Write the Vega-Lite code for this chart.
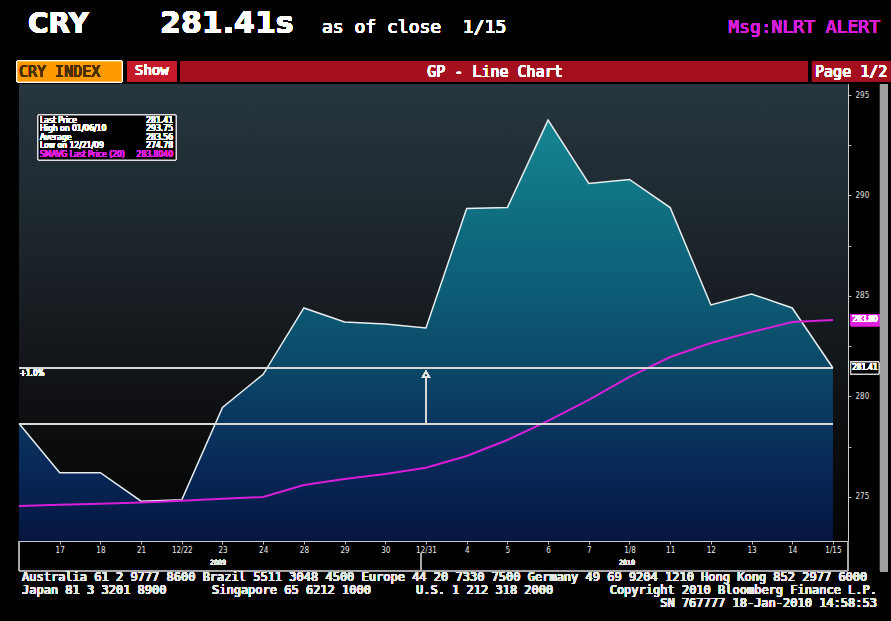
{
  "$schema": "https://vega.github.io/schema/vega-lite/v6.json",
  "width": 829,
  "height": 457,
  "autosize": "none",
  "padding": {"left": 19, "top": 84, "right": 43, "bottom": 80},
  "background": "#000000",
  "config": {
    "view": {"stroke": "#8a8a8a", "strokeWidth": 1},
    "font": "DejaVu Sans"
  },
  "resolve": {"axis": {"x": "independent", "y": "independent"}},
  "data": {
    "values": [
      {"i": 0, "price": 278.65, "sma": 274.54},
      {"i": 1, "price": 276.2, "sma": 274.6},
      {"i": 2, "price": 276.2, "sma": 274.66},
      {"i": 3, "price": 274.78, "sma": 274.72},
      {"i": 4, "price": 274.85, "sma": 274.8},
      {"i": 5, "price": 279.45, "sma": 274.9},
      {"i": 6, "price": 281.1, "sma": 274.99},
      {"i": 7, "price": 284.4, "sma": 275.59},
      {"i": 8, "price": 283.7, "sma": 275.89},
      {"i": 9, "price": 283.6, "sma": 276.14},
      {"i": 10, "price": 283.4, "sma": 276.45},
      {"i": 11, "price": 289.35, "sma": 277.03},
      {"i": 12, "price": 289.4, "sma": 277.83},
      {"i": 13, "price": 293.75, "sma": 278.78},
      {"i": 14, "price": 290.6, "sma": 279.82},
      {"i": 15, "price": 290.8, "sma": 280.97},
      {"i": 16, "price": 289.4, "sma": 281.96},
      {"i": 17, "price": 284.55, "sma": 282.66},
      {"i": 18, "price": 285.1, "sma": 283.2},
      {"i": 19, "price": 284.4, "sma": 283.7},
      {"i": 20, "price": 281.41, "sma": 283.804}
    ]
  },
  "layer": [
    {
      "mark": {"type": "rect", "fill": {"gradient": "linear", "x1": 0, "y1": 0, "x2": 0, "y2": 1, "stops": [
        {"offset": 0, "color": "#27363f"},
        {"offset": 0.25, "color": "#1f2a31"},
        {"offset": 0.5, "color": "#171c21"},
        {"offset": 0.7, "color": "#0e1013"},
        {"offset": 1, "color": "#040404"}
      ]}},
      "encoding": {
        "x": {"datum": 0, "type": "quantitative", "axis": null},
        "x2": {"datum": 20.37},
        "y": {"datum": 295.55, "type": "quantitative", "axis": null},
        "y2": {"datum": 272.8}
      }
    },
    {
      "mark": {"type": "area", "fill": {"gradient": "linear", "x1": 0, "y1": 0, "x2": 0, "y2": 1, "stops": [
        {"offset": 0, "color": "#178592"},
        {"offset": 0.23, "color": "#0f6e80"},
        {"offset": 0.43, "color": "#0c5a74"},
        {"offset": 0.57, "color": "#0b4a68"},
        {"offset": 0.71, "color": "#0a3760"},
        {"offset": 0.85, "color": "#082555"},
        {"offset": 1, "color": "#051640"}
      ]}},
      "encoding": {
        "x": {"field": "i", "type": "quantitative",
          "scale": {"domain": [0, 20.37], "nice": false, "zero": false},
          "axis": {"values": [1,2,3,4,5,6,7,8,9,10,11,12,13,14,15,16,17,18,19,20],
            "labelExpr": "['','17','18','21','12/22','23','24','28','29','30','12/31','4','5','6','7','1/8','11','12','13','14','1/15'][datum.value]",
            "title": null, "grid": false, "labelColor": "#ececec", "labelFontSize": 8, "labelFont": "DejaVu Sans Condensed",
            "tickSize": 3, "tickColor": "#bbbbbb", "domainColor": "#cccccc", "labelPadding": 2}},
        "y": {"field": "price", "type": "quantitative",
          "scale": {"domain": [272.8, 295.55], "nice": false, "zero": false},
          "axis": {"orient": "right", "values": [275, 277.5, 280, 282.5, 285, 287.5, 290, 292.5, 295],
            "labelExpr": "datum.value % 5 == 0 ? datum.label : ''",
            "title": null, "grid": false, "labelColor": "#e0e0e0", "labelFontSize": 8, "labelFont": "DejaVu Sans Condensed",
            "tickSize": 3, "tickColor": "#bbbbbb", "domainColor": "#d0d0d0", "labelPadding": 4}},
        "y2": {"datum": 272.8}
      }
    },
    {
      "mark": {"type": "line", "stroke": "#e8eef0", "strokeWidth": 1.5},
      "encoding": {
        "x": {"field": "i", "type": "quantitative", "axis": null},
        "y": {"field": "price", "type": "quantitative", "axis": null}
      }
    },
    {
      "mark": {"type": "line", "stroke": "#d81ed8", "strokeWidth": 2},
      "encoding": {
        "x": {"field": "i", "type": "quantitative", "axis": null},
        "y": {"field": "sma", "type": "quantitative", "axis": null}
      }
    },
    {
      "mark": {"type": "rule", "stroke": "#d8d8d8", "strokeWidth": 1.5},
      "encoding": {
        "x": {"datum": 0, "type": "quantitative", "axis": null},
        "x2": {"datum": 20},
        "y": {"datum": 281.41, "type": "quantitative", "axis": null}
      }
    },
    {
      "mark": {"type": "rule", "stroke": "#d8d8d8", "strokeWidth": 1.5},
      "encoding": {
        "x": {"datum": 0, "type": "quantitative", "axis": null},
        "x2": {"datum": 20},
        "y": {"datum": 278.62, "type": "quantitative", "axis": null}
      }
    },
    {
      "mark": {"type": "rule", "stroke": "#d8d8d8", "strokeWidth": 1.5},
      "encoding": {
        "x": {"datum": 10, "type": "quantitative", "axis": null},
        "y": {"datum": 278.62, "type": "quantitative", "axis": null},
        "y2": {"datum": 281.0}
      }
    },
    {
      "mark": {"type": "point", "shape": "triangle-up", "filled": false, "stroke": "#e0e0e0", "strokeWidth": 1.2, "size": 45, "opacity": 1},
      "encoding": {
        "x": {"datum": 10, "type": "quantitative", "axis": null},
        "y": {"datum": 281.1, "type": "quantitative", "axis": null}
      }
    },
    {
      "mark": {"type": "text", "text": "+1.0%", "fill": "#ffffff", "fontSize": 8, "font": "DejaVu Sans Condensed", "align": "left", "baseline": "top", "dx": 1, "dy": 2},
      "encoding": {
        "x": {"datum": 0, "type": "quantitative", "axis": null},
        "y": {"datum": 281.41, "type": "quantitative", "axis": null}
      }
    },
    {
      "mark": {"type": "rect", "fill": "#000000", "stroke": "#e0e0e0", "strokeWidth": 1},
      "encoding": {
        "x": {"datum": 0.467, "type": "quantitative", "axis": null},
        "x2": {"datum": 3.858},
        "y": {"datum": 294.007, "type": "quantitative", "axis": null},
        "y2": {"datum": 291.767}
      }
    },
    {
      "mark": {"type": "text", "text": ["Last Price", "High on 01/06/10", "Average", "Low on 12/21/09"], "lineHeight": 8.5, "fill": "#ffffff", "fontSize": 8.5, "font": "DejaVu Sans Condensed", "align": "left", "baseline": "top"},
      "encoding": {
        "x": {"datum": 0.516, "type": "quantitative", "axis": null},
        "y": {"datum": 293.96, "type": "quantitative", "axis": null}
      }
    },
    {
      "mark": {"type": "text", "text": ["281.41", "293.75", "283.56", "274.78"], "lineHeight": 8.5, "fill": "#ffffff", "fontSize": 8.5, "font": "DejaVu Sans Condensed", "align": "right", "baseline": "top"},
      "encoding": {
        "x": {"datum": 3.784, "type": "quantitative", "axis": null},
        "y": {"datum": 293.96, "type": "quantitative", "axis": null}
      }
    },
    {
      "mark": {"type": "text", "text": "SMAVG Last Price (20)", "fill": "#e020e0", "fontSize": 8.5, "font": "DejaVu Sans Condensed", "align": "left", "baseline": "middle"},
      "encoding": {
        "x": {"datum": 0.516, "type": "quantitative", "axis": null},
        "y": {"datum": 292.066, "type": "quantitative", "axis": null}
      }
    },
    {
      "mark": {"type": "text", "text": "283.8040", "fill": "#e020e0", "fontSize": 8.5, "font": "DejaVu Sans Condensed", "align": "right", "baseline": "middle"},
      "encoding": {
        "x": {"datum": 3.784, "type": "quantitative", "axis": null},
        "y": {"datum": 292.066, "type": "quantitative", "axis": null}
      }
    },
    {
      "mark": {"type": "rect", "fill": "#e020e0"},
      "encoding": {
        "x": {"datum": 20.44, "type": "quantitative", "axis": null},
        "x2": {"datum": 21.15},
        "y": {"datum": 284.1, "type": "quantitative", "axis": null},
        "y2": {"datum": 283.5}
      }
    },
    {
      "mark": {"type": "text", "text": "283.80", "fill": "#ffffff", "fontSize": 8, "font": "DejaVu Sans Condensed", "align": "center", "baseline": "middle"},
      "encoding": {
        "x": {"datum": 20.79, "type": "quantitative", "axis": null},
        "y": {"datum": 283.804, "type": "quantitative", "axis": null}
      }
    },
    {
      "mark": {"type": "rect", "fill": "#000000", "stroke": "#e0e0e0", "strokeWidth": 1},
      "encoding": {
        "x": {"datum": 20.44, "type": "quantitative", "axis": null},
        "x2": {"datum": 21.13},
        "y": {"datum": 281.71, "type": "quantitative", "axis": null},
        "y2": {"datum": 281.11}
      }
    },
    {
      "mark": {"type": "text", "text": "281.41", "fill": "#ffffff", "fontSize": 8, "font": "DejaVu Sans Condensed", "align": "center", "baseline": "middle"},
      "encoding": {
        "x": {"datum": 20.785, "type": "quantitative", "axis": null},
        "y": {"datum": 281.41, "type": "quantitative", "axis": null}
      }
    },
    {
      "mark": {"type": "rect", "fill": "#a0a0a0"},
      "encoding": {
        "x": {"datum": 21.156, "type": "quantitative", "axis": null},
        "x2": {"datum": 21.35},
        "y": {"datum": 295.55, "type": "quantitative", "axis": null},
        "y2": {"datum": 271.3}
      }
    },
    {
      "mark": {"type": "rule", "stroke": "#a8a8a8", "strokeWidth": 1},
      "encoding": {
        "x": {"datum": 0, "type": "quantitative", "axis": null},
        "x2": {"datum": 20.37},
        "y": {"datum": 271.307, "type": "quantitative", "axis": null}
      }
    },
    {
      "mark": {"type": "rule", "stroke": "#a8a8a8", "strokeWidth": 1},
      "encoding": {
        "x": {"datum": 0, "type": "quantitative", "axis": null},
        "y": {"datum": 272.8, "type": "quantitative", "axis": null},
        "y2": {"datum": 271.307}
      }
    },
    {
      "mark": {"type": "rule", "stroke": "#a8a8a8", "strokeWidth": 1},
      "encoding": {
        "x": {"datum": 20.37, "type": "quantitative", "axis": null},
        "y": {"datum": 272.8, "type": "quantitative", "axis": null},
        "y2": {"datum": 271.307}
      }
    },
    {
      "mark": {"type": "rule", "stroke": "#a8a8a8", "strokeWidth": 1},
      "encoding": {
        "x": {"datum": 9.88, "type": "quantitative", "axis": null},
        "y": {"datum": 272.2, "type": "quantitative", "axis": null},
        "y2": {"datum": 271.307}
      }
    },
    {
      "mark": {"type": "text", "text": "2009", "fill": "#e6e6e6", "fontSize": 7, "font": "DejaVu Sans Condensed", "align": "center", "baseline": "middle"},
      "encoding": {
        "x": {"datum": 4.89, "type": "quantitative", "axis": null},
        "y": {"datum": 271.706, "type": "quantitative", "axis": null}
      }
    },
    {
      "mark": {"type": "text", "text": "2010", "fill": "#e6e6e6", "fontSize": 7, "font": "DejaVu Sans Condensed", "align": "center", "baseline": "middle"},
      "encoding": {
        "x": {"datum": 14.94, "type": "quantitative", "axis": null},
        "y": {"datum": 271.706, "type": "quantitative", "axis": null}
      }
    },
    {
      "mark": {"type": "text", "text": "CRY", "fill": "#ffffff", "fontSize": 28, "fontWeight": "bold", "font": "DejaVu Sans", "align": "left", "baseline": "alphabetic"},
      "encoding": {
        "x": {"datum": 0.221, "type": "quantitative", "axis": null},
        "y": {"datum": 298.09, "type": "quantitative", "axis": null}
      }
    },
    {
      "mark": {"type": "text", "text": "281.41s", "fill": "#ffffff", "fontSize": 30, "fontWeight": "bold", "font": "DejaVu Sans", "align": "left", "baseline": "alphabetic"},
      "encoding": {
        "x": {"datum": 3.465, "type": "quantitative", "axis": null},
        "y": {"datum": 298.09, "type": "quantitative", "axis": null}
      }
    },
    {
      "mark": {"type": "text", "text": "as of close\u00a0 1/15", "fill": "#ffffff", "fontSize": 18, "font": "DejaVu Sans Mono", "align": "left", "baseline": "alphabetic"},
      "encoding": {
        "x": {"datum": 7.445, "type": "quantitative", "axis": null},
        "y": {"datum": 298.09, "type": "quantitative", "axis": null}
      }
    },
    {
      "mark": {"type": "text", "text": "Msg:NLRT ALERT", "fill": "#d81ed8", "fontSize": 18, "font": "DejaVu Sans Mono", "align": "right", "baseline": "alphabetic"},
      "encoding": {
        "x": {"datum": 21.156, "type": "quantitative", "axis": null},
        "y": {"datum": 298.09, "type": "quantitative", "axis": null}
      }
    },
    {
      "mark": {"type": "rect", "fill": "#ff9a00", "stroke": "#ffffff", "strokeWidth": 0.6},
      "encoding": {
        "x": {"datum": -0.049, "type": "quantitative", "axis": null},
        "x2": {"datum": 2.531},
        "y": {"datum": 296.695, "type": "quantitative", "axis": null},
        "y2": {"datum": 295.65}
      }
    },
    {
      "mark": {"type": "rect", "fill": "#c41a2a"},
      "encoding": {
        "x": {"datum": 2.654, "type": "quantitative", "axis": null},
        "x2": {"datum": 3.882},
        "y": {"datum": 296.695, "type": "quantitative", "axis": null},
        "y2": {"datum": 295.65}
      }
    },
    {
      "mark": {"type": "rect", "fill": "#a5101f"},
      "encoding": {
        "x": {"datum": 3.956, "type": "quantitative", "axis": null},
        "x2": {"datum": 19.387},
        "y": {"datum": 296.695, "type": "quantitative", "axis": null},
        "y2": {"datum": 295.65}
      }
    },
    {
      "mark": {"type": "rect", "fill": "#a5101f"},
      "encoding": {
        "x": {"datum": 19.485, "type": "quantitative", "axis": null},
        "x2": {"datum": 21.427},
        "y": {"datum": 296.695, "type": "quantitative", "axis": null},
        "y2": {"datum": 295.65}
      }
    },
    {
      "mark": {"type": "text", "text": "CRY INDEX", "fill": "#4a3000", "fontSize": 15, "font": "DejaVu Sans Mono", "align": "left", "baseline": "middle"},
      "encoding": {
        "x": {"datum": 0.0, "type": "quantitative", "axis": null},
        "y": {"datum": 296.17, "type": "quantitative", "axis": null}
      }
    },
    {
      "mark": {"type": "text", "text": "Show", "fill": "#ffffff", "fontSize": 14, "font": "DejaVu Sans Mono", "align": "left", "baseline": "middle"},
      "encoding": {
        "x": {"datum": 2.85, "type": "quantitative", "axis": null},
        "y": {"datum": 296.22, "type": "quantitative", "axis": null}
      }
    },
    {
      "mark": {"type": "text", "text": "GP - Line Chart", "fill": "#ffffff", "fontSize": 15, "font": "DejaVu Sans Mono", "align": "center", "baseline": "middle"},
      "encoding": {
        "x": {"datum": 11.696, "type": "quantitative", "axis": null},
        "y": {"datum": 296.17, "type": "quantitative", "axis": null}
      }
    },
    {
      "mark": {"type": "text", "text": "Page 1/2", "fill": "#ffffff", "fontSize": 15, "font": "DejaVu Sans Mono", "align": "left", "baseline": "middle"},
      "encoding": {
        "x": {"datum": 19.56, "type": "quantitative", "axis": null},
        "y": {"datum": 296.17, "type": "quantitative", "axis": null}
      }
    },
    {
      "mark": {"type": "text", "text": "Australia 61 2 9777 8600 Brazil 5511 3048 4500 Europe 44 20 7330 7500 Germany 49 69 9204 1210 Hong Kong 852 2977 6000", "fill": "#e8e8e8", "fontSize": 12, "font": "DejaVu Sans Mono", "align": "left", "baseline": "middle"},
      "encoding": {
        "x": {"datum": 0.074, "type": "quantitative", "axis": null},
        "y": {"datum": 271.01, "type": "quantitative", "axis": null}
      }
    },
    {
      "mark": {"type": "text", "text": "Japan 81 3 3201 8900", "fill": "#e8e8e8", "fontSize": 12, "font": "DejaVu Sans Mono", "align": "left", "baseline": "middle"},
      "encoding": {
        "x": {"datum": 0.074, "type": "quantitative", "axis": null},
        "y": {"datum": 270.361, "type": "quantitative", "axis": null}
      }
    },
    {
      "mark": {"type": "text", "text": "Singapore 65 6212 1000", "fill": "#e8e8e8", "fontSize": 12, "font": "DejaVu Sans Mono", "align": "left", "baseline": "middle"},
      "encoding": {
        "x": {"datum": 4.742, "type": "quantitative", "axis": null},
        "y": {"datum": 270.361, "type": "quantitative", "axis": null}
      }
    },
    {
      "mark": {"type": "text", "text": "U.S. 1 212 318 2000", "fill": "#e8e8e8", "fontSize": 12, "font": "DejaVu Sans Mono", "align": "left", "baseline": "middle"},
      "encoding": {
        "x": {"datum": 9.755, "type": "quantitative", "axis": null},
        "y": {"datum": 270.361, "type": "quantitative", "axis": null}
      }
    },
    {
      "mark": {"type": "text", "text": "Copyright 2010 Bloomberg Finance L.P.", "fill": "#e8e8e8", "fontSize": 12, "font": "DejaVu Sans Mono", "align": "right", "baseline": "middle"},
      "encoding": {
        "x": {"datum": 21.082, "type": "quantitative", "axis": null},
        "y": {"datum": 270.361, "type": "quantitative", "axis": null}
      }
    },
    {
      "mark": {"type": "text", "text": "SN 767777 18-Jan-2010 14:58:53", "fill": "#e8e8e8", "fontSize": 12, "font": "DejaVu Sans Mono", "align": "right", "baseline": "middle"},
      "encoding": {
        "x": {"datum": 21.082, "type": "quantitative", "axis": null},
        "y": {"datum": 269.714, "type": "quantitative", "axis": null}
      }
    }
  ]
}
